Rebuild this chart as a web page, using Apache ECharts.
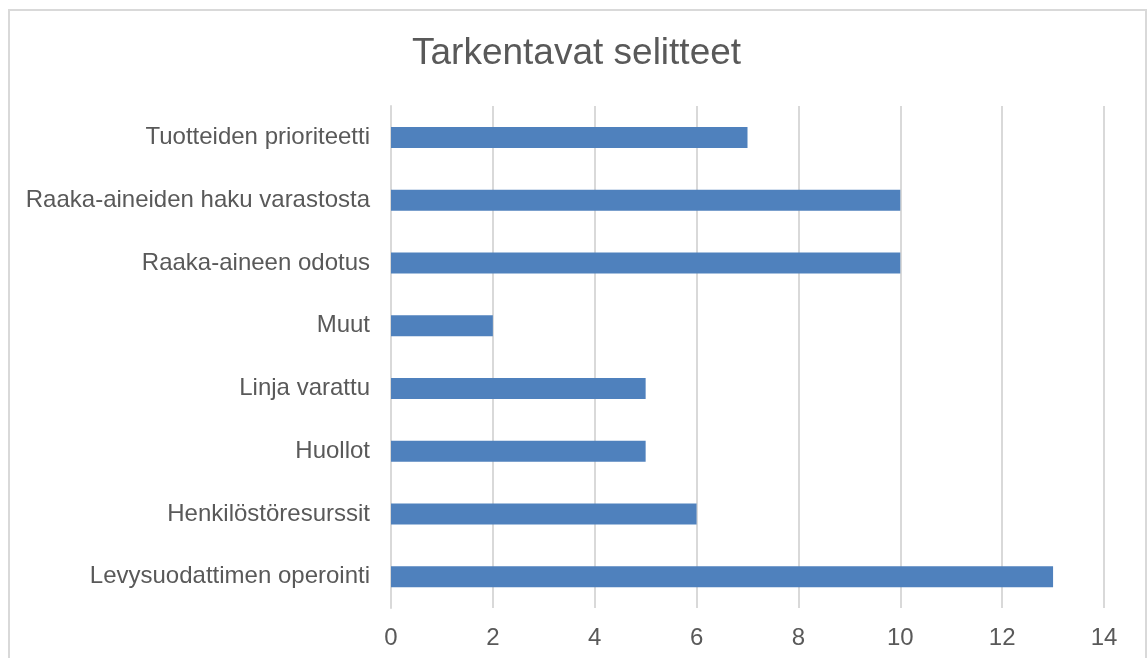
<!DOCTYPE html>
<html>
<head>
<meta charset="utf-8">
<script src="https://cdn.jsdelivr.net/npm/echarts@6/dist/echarts.min.js"></script>
<style>
html,body{margin:0;padding:0;background:#fff;}
#c{width:1148px;height:658px;}
</style>
</head>
<body>
<div id="c"></div>
<script>
const categories = [
  "Tuotteiden prioriteetti",
  "Raaka-aineiden haku varastosta",
  "Raaka-aineen odotus",
  "Muut",
  "Linja varattu",
  "Huollot",
  "Henkilöstöresurssit",
  "Levysuodattimen operointi"
];
const values = [7, 10, 10, 2, 5, 5, 6, 13];
const titleText = "Tarkentavat selitteet";

const chart = echarts.init(document.getElementById('c'), null, {renderer: 'canvas'});
const font = '"Liberation Sans", Arial, sans-serif';
chart.setOption({
  animation: false,
  backgroundColor: '#ffffff',
  textStyle: {fontFamily: font},
  title: {
    text: titleText,
    left: 412,
    top: 35,
    padding: 0,
    textStyle: {fontFamily: font, fontSize: 37, fontWeight: 'normal', color: '#595959'}
  },
  graphic: [{
    type: 'rect',
    silent: true,
    z: -1,
    shape: {x: 9, y: 10, width: 1137, height: 700},
    style: {fill: 'none', stroke: '#d9d9d9', lineWidth: 2}
  }],
  grid: {left: 391, right: 44, top: 106, bottom: 50, containLabel: false},
  xAxis: {
    type: 'value',
    min: 0, max: 14, interval: 2,
    axisLine: {show: false},
    axisTick: {show: false},
    splitLine: {show: true, lineStyle: {color: '#d9d9d9', width: 2}},
    axisLabel: {fontFamily: font, fontSize: 24, color: '#595959', margin: 18}
  },
  yAxis: {
    type: 'category',
    inverse: true,
    data: categories,
    axisLine: {show: true, lineStyle: {color: '#d9d9d9', width: 2}},
    axisTick: {show: false},
    axisLabel: {fontFamily: font, fontSize: 24, color: '#595959', margin: 21}
  },
  series: [{
    type: 'bar',
    data: values,
    barWidth: 21,
    itemStyle: {color: '#4F81BD'}
  }]
});
</script>
</body>
</html>
